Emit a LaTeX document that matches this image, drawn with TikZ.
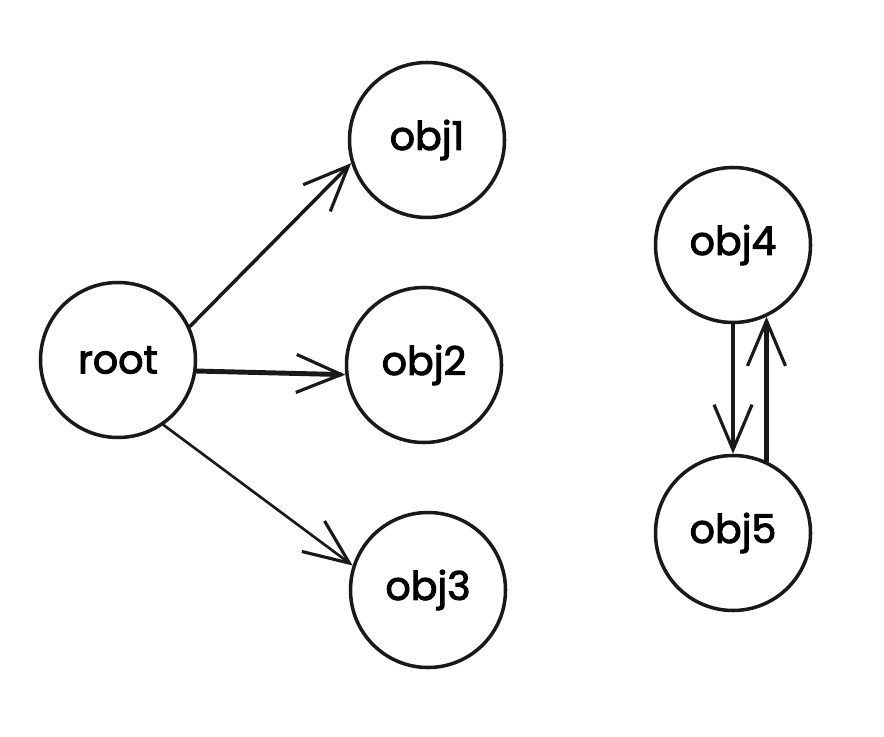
\documentclass[tikz,border=0pt]{standalone}
\usepackage{fontspec}
\setmainfont{Poppins}[BoldFont=Poppins, BoldFeatures={FakeBold=2.5}]
\usetikzlibrary{arrows.meta}
\tikzset{
    obj/.style={circle, draw=black!90, line width=2pt, minimum size=3.1cm, inner sep=0pt, font=\fontsize{22.5}{26}\selectfont\bfseries},
    ref/.style={draw=black!90, line cap=round, -{Straight Barb[length=9mm, width=7.6mm, line width=1.8pt]}},
}
\begin{document}
\begin{tikzpicture}
    \useasboundingbox (0, 0) rectangle (17.68, 14.72);

    % Root set and the objects it reaches
    \node[obj] (root) at (2.36, 7.52) {root};
    \foreach \name/\x/\y in {obj1/8.54/11.92, obj2/8.48/7.42, obj3/8.56/2.92} {
        \node[obj] (\name) at (\x, \y) {\name};
    }

    % Cycle with no path from root
    \foreach \name/\x/\y in {obj4/14.66/9.82, obj5/14.66/4.06} {
        \node[obj] (\name) at (\x, \y) {\name};
    }

    % References from root
    \draw[ref, line width=2pt] (root.25) -- (obj1.197);
    \draw[ref, line width=2.8pt] (root.-8) -- (obj2.187);
    \draw[ref, line width=1.5pt] (root.-55) -- (obj3.162);

    % obj4 <-> obj5
    \draw[ref, line width=2.5pt] (obj4.south) -- (obj5.north);
    \draw[ref, line width=2.5pt] (obj5.65) -- (obj4.-65);
\end{tikzpicture}
\end{document}
